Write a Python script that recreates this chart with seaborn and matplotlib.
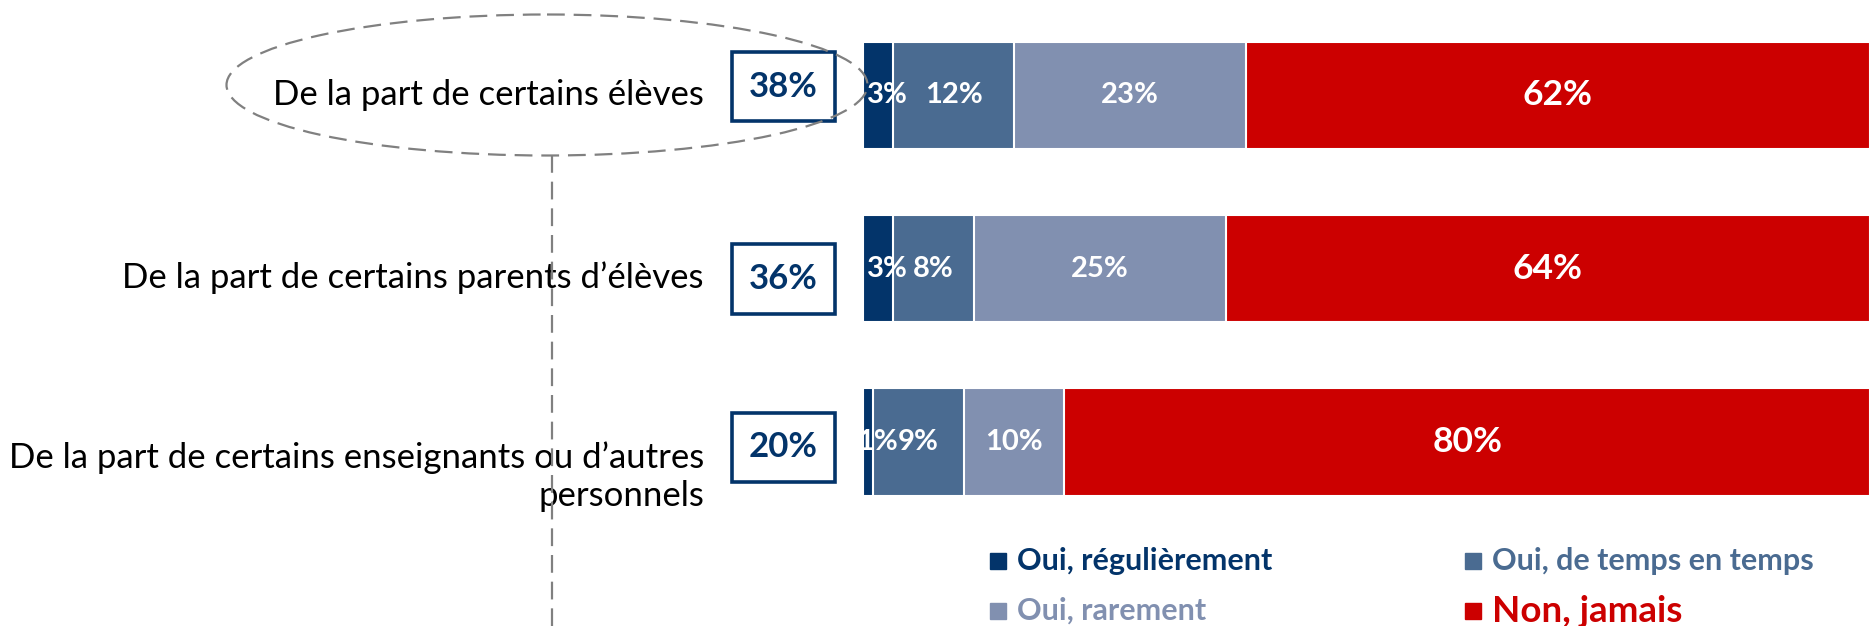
import matplotlib
matplotlib.use("Agg")
import pandas as pd
import seaborn as sns
import matplotlib.pyplot as plt
from matplotlib.patches import Rectangle, Ellipse

# data
rows = [
    "De la part de certains élèves",
    "De la part de certains parents d’élèves",
    "De la part de certains enseignants ou d’autres\npersonnels",
]
series = ["Oui, régulièrement", "Oui, de temps en temps", "Oui, rarement", "Non, jamais"]
regulierement = [3, 3, 1]
de_temps = [12, 8, 9]
rarement = [23, 25, 10]
jamais = [62, 64, 80]
total_oui = [38, 36, 20]

colors = ["#03346A", "#4A6B91", "#8190B0", "#CC0000"]

W, H = 1870, 626
sns.set_theme(style="white")
plt.rcParams["font.family"] = ["Lato", "DejaVu Sans"]

df = pd.DataFrame({"row": rows, series[0]: regulierement, series[1]: de_temps,
                   series[2]: rarement, series[3]: jamais})

fig = plt.figure(figsize=(W / 100, H / 100), dpi=100)
ax = fig.add_axes([863 / W, 0, 1 - 863 / W, 1])

# stacked bars: draw cumulative totals from the longest down
cum = df[series].cumsum(axis=1)
for k in reversed(range(len(series))):
    sns.barplot(x=cum[series[k]], y=df["row"], color=colors[k], orient="h",
                width=0.62, saturation=1, edgecolor="white", linewidth=1.5, ax=ax)

ax.set_xlim(0, 100)
ax.set_ylim(3.062, -0.551)
ax.axis("off")

# values inside the segments (tiny segments get their label nudged right)
for i in range(len(rows)):
    left = 0
    for k, s in enumerate(series):
        v = df.loc[i, s]
        big = k == 3
        nudge = 0.9 if v < 5 else 0
        ax.text(left + v / 2 + nudge, i, f"{v}%", ha="center", va="center", color="white",
                fontweight="bold", fontsize=25.5 if big else 21, clip_on=False)
        left += v

# category labels and boxed totals
label_shift = [0, 0.05, 0.2]
box_shift = [-0.05, 0.06, 0.03]
for i, r in enumerate(rows):
    ax.text(-15.8, i + label_shift[i], r, ha="right", va="center", multialignment="right",
            fontsize=25, color="black", clip_on=False)
    bw, bh = 10.2, 0.40
    cy = i + box_shift[i]
    ax.add_patch(Rectangle((-13.0, cy - bh / 2), bw, bh, fill=False, edgecolor=colors[0],
                           linewidth=2.6, clip_on=False))
    ax.text(-13.0 + bw / 2, cy, f"{total_oui[i]}%", ha="center", va="center",
            fontsize=25, fontweight="bold", color=colors[0], clip_on=False)

# overlay in pixel coordinates: dashed ellipse, connector line, legend
over = fig.add_axes([0, 0, 1, 1])
over.set_xlim(0, W)
over.set_ylim(H, 0)
over.axis("off")
over.add_patch(Ellipse((547, 85), 641, 141, fill=False, edgecolor="#808080",
                       linewidth=1.6, linestyle=(0, (8, 4))))
over.plot([552, 552], [155, H], color="#808080", linewidth=1.6, linestyle=(0, (8, 4)))

leg_x = [990, 1465]
leg_y = [561, 611]
for k, s in enumerate(series):
    x, y = leg_x[k % 2], leg_y[k // 2]
    over.add_patch(Rectangle((x, y - 8), 16, 16, color=colors[k]))
    over.text(x + 27, y, s, ha="left", va="center", color=colors[k], fontweight="bold",
              fontsize=26.5 if k == 3 else 22)

fig.savefig("out.png", dpi=100)
